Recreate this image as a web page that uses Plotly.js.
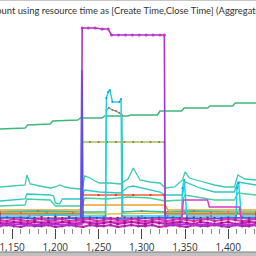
<!DOCTYPE html>
<html><head><meta charset="utf-8">
<script src="https://cdn.plot.ly/plotly-3.0.1.min.js"></script>
<style>html,body{margin:0;padding:0;background:#fff;}#c{width:256px;height:256px;}</style>
</head><body><div id="c"></div>
<script>
// ---- data (x = time units, y = resource count) ----
const titleText = "Count using resource time as [Create Time,Close Time] (Aggregated)";
const tickVals = [1150, 1200, 1250, 1300, 1350, 1400];

const purpleX = [1136,1150,1170,1190,1210,1228,1230,1231,1238,1246,1254,1261,1265,1273,1281,1289,1297,1305,1313,1321,1326,1327,1340,1360,1380,1400,1420,1432];
const purpleY = [3,4,3,4,3,4,4,200,200,200,199,199,193,193,193,193,193,193,193,193,193,3,4,3,4,3,4,3];

const blueX = [1136,1160,1190,1220,1229.5,1230.5,1231,1232,1250,1280,1310,1340,1370,1400,1432];
const blueY = [10,10,9,10,10,158,150,10,10,9,10,10,9,10,10];

const cyanX = [1136,1170,1200,1230,1258,1259,1261,1263,1266,1274,1276,1277,1300,1330,1346,1347,1349,1352,1380,1409,1410,1412,1415,1432];
const cyanY = [12,12,13,12,12,130,136,138,126,126,129,12,12,12,12,40,48,12,12,12,40,45,12,12];

const tealArchX = [1136,1180,1230,1258,1259,1262,1266,1270,1274,1277,1278,1300,1330,1360,1400,1432];
const tealArchY = [16,17,16,16,118,120,118,117,115,113,16,17,16,17,16,16];

const limeX = [1136,1160,1190,1220,1230,1231,1240,1250,1260,1270,1280,1290,1300,1310,1320,1326,1327,1350,1380,1410,1432];
const limeY = [15,15,15,15,15,86,86,86,86,86,86,86,86,86,86,86,15,15,15,15,15];

const greenX = [1136,1165,1168,1194,1197,1226,1229,1254,1257,1284,1287,1318,1321,1346,1349,1376,1379,1405,1408,1432];
const greenY = [99,100,103,104,107,108,110,110,112,112,113,113,117,117,120,120,122,122,125,125];

const teal1X = [1136,1159,1165,1167,1171,1182,1194,1200,1205,1211,1217,1228,1231,1234,1240,1246,1251,1263,1275,1284,1290,1298,1309,1321,1327,1338,1347,1350,1355,1367,1384,1396,1407,1411,1419,1432];
const teal1Y = [41,42,43,53,44,42,40,41,43,41,40,39,39,52,50,47,45,45,44,49,60,48,46,45,40,41,48,56,50,47,43,41,41,53,49,48];

const teal2X = [1136,1159,1165,1167,1194,1198,1200,1205,1208,1225,1229,1234,1251,1275,1284,1290,1309,1321,1327,1347,1350,1367,1384,1407,1411,1432];
const teal2Y = [27,28,29,34,33,32,25,24,29,29,29,38,36,35,41,42,38,36,33,33,46,40,36,36,46,43];

const teal3X = [1136,1165,1167,1194,1200,1228,1231,1234,1260,1284,1309,1327,1347,1350,1384,1407,1411,1432];
const teal3Y = [22,23,29,28,22,22,22,30,29,31,30,27,28,33,28,28,35,33];

const orangeX = [1136,1190,1228,1232,1270,1300,1327,1330,1380,1432];
const orangeY = [18,18,18,23,23,23,23,18,18,18];

const redX = [1136,1230,1231,1250,1270,1290,1310,1326,1327,1432];
const redY = [14,14,33,33,33,33,33,33,14,14];

const magentaX = [1136,1200,1260,1346,1348,1360,1376,1378,1395,1413,1415,1432];
const magentaY = [6,6,6,6,28,28,28,21,21,21,6,6];

const amberX = [1136,1200,1260,1320,1380,1432];
const amberY = [15,15,14,15,15,14];

const bandX = [1136,1144,1152,1160,1168,1176,1184,1192,1200,1208,1216,1224,1232,1240,1248,1256,1264,1272,1280,1288,1296,1304,1312,1320,1328,1336,1344,1352,1360,1368,1376,1384,1392,1400,1408,1416,1424,1432];
const band1Y = [5,4,6,5,4,6,5,5,4,6,5,4,6,5,4,5,6,4,5,6,5,4,6,5,4,5,6,5,4,6,5,4,5,6,4,5,6,5];
const band2Y = [2,3,2,1,3,2,2,3,1,2,3,2,1,3,2,2,3,1,2,3,2,2,3,1,2,3,2,1,3,2,2,3,2,1,3,2,2,3];
const band3Y = [8,7,9,8,7,8,9,7,8,9,7,8,8,9,7,8,9,8,7,9,8,7,8,9,7,8,9,8,7,8,9,7,8,9,8,7,8,9];
const band4Y = [10,11,10,11,10,10,11,10,11,10,11,10,10,11,10,11,10,10,11,10,11,10,10,11,10,11,10,10,11,10,11,10,10,11,10,11,10,10];

function ln(x, y, color, width, mcolor, msize, dash) {
  return {x: x, y: y, type: 'scatter', mode: mcolor ? 'lines+markers' : 'lines',
    line: {color: color, width: width, dash: dash || 'solid'},
    marker: {color: mcolor || color, size: msize || 3}, hoverinfo: 'skip', showlegend: false};
}

const traces = [
  ln(bandX, band4Y, '#c040b0', 0.8, '#6a2a60', 2.5),
  ln(amberX, amberY, '#e8c040', 1.5),
  ln(orangeX, orangeY, '#f0a028', 1.5),
  ln(teal3X, teal3Y, '#48d0a0', 1.3),
  ln(teal2X, teal2Y, '#2ec8c8', 1.3),
  ln(teal1X, teal1Y, '#3ccab0', 1.3),
  ln(tealArchX, tealArchY, '#34c0a8', 1.3, '#e05050', 2),
  ln(limeX, limeY, '#98cc50', 1.5, '#d85050', 2),
  ln(redX, redY, '#f06040', 1.5, '#c03030', 2),
  ln(greenX, greenY, '#3cb878', 1.5),
  ln(cyanX, cyanY, '#1ad6e8', 1.5, '#2090e0', 2),
  ln(blueX, blueY, '#3355ee', 1.5),
  ln(magentaX, magentaY, '#d83ad0', 1.5),
  ln(bandX, band3Y, '#e040a8', 2, '#c02090', 3),
  ln(bandX, band1Y, '#cc22bb', 2, '#a01090', 3),
  ln(bandX, band2Y, '#c028c0', 2, '#b020a0', 3),
  ln(purpleX, purpleY, '#a335d8', 1.6, '#d030c0', 3)
];

const H = 208; // plot height in px
function py(p) { return (228 - p) / H; }

const layout = {
  width: 256, height: 256,
  margin: {l: 0, r: 0, t: 20, b: 28, pad: 0},
  paper_bgcolor: '#ffffff', plot_bgcolor: '#ffffff',
  showlegend: false,
  xaxis: {range: [1136, 1432], tickvals: tickVals, ticktext: tickVals.map(v => v.toLocaleString('en-US')),
    ticklabeloverflow: 'allow',
    ticks: 'outside', ticklen: 10, tickwidth: 1, tickcolor: '#444',
    minor: {dtick: 10, tick0: 1150, ticks: 'outside', ticklen: 5, tickcolor: '#888', tickwidth: 1, showgrid: false},
    showgrid: false, zeroline: false, showline: false,
    tickfont: {family: 'Open Sans, sans-serif', size: 10, color: '#333'}},
  yaxis: {range: [0, 208], visible: false, showgrid: false, zeroline: false},
  annotations: [{text: titleText, xref: 'paper', yref: 'paper', x: -12/256, y: py(11), xanchor: 'left', yanchor: 'middle',
    showarrow: false, font: {family: 'Lato, sans-serif', size: 9.4, color: '#333'}}],
  shapes: [
    {type: 'rect', xref: 'paper', yref: 'paper', x0: -0.02, x1: 1.02, y0: py(1), y1: py(-2), fillcolor: '#c8c8c8', line: {width: 0}},
    {type: 'rect', xref: 'paper', yref: 'paper', x0: -0.02, x1: 1.02, y0: py(256), y1: py(252), fillcolor: '#c0c0c0', line: {width: 0}},
    {type: 'line', xref: 'paper', yref: 'paper', x0: -0.02, x1: 1.02, y0: py(252), y1: py(252), line: {color: '#808080', width: 1}}
  ]
};

Plotly.newPlot('c', traces, layout, {staticPlot: true, displayModeBar: false});
</script></body></html>
